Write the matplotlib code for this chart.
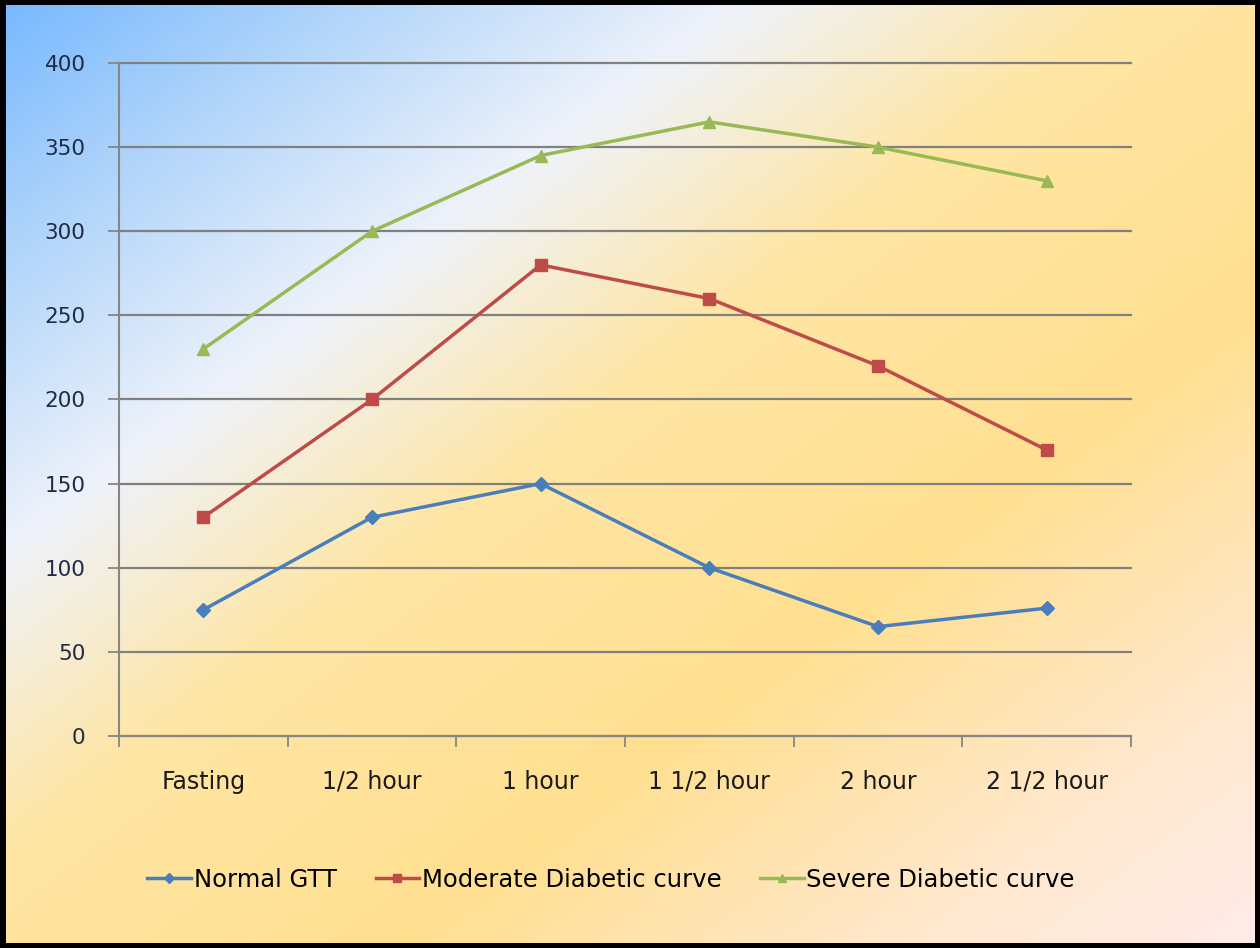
import numpy as np
import matplotlib
matplotlib.use("Agg")
import matplotlib.pyplot as plt

# Данные (мг/дл)
categories = ["Fasting", "1/2 hour", "1 hour", "1 1/2 hour", "2 hour", "2 1/2 hour"]
normal_gtt = [75, 130, 150, 100, 65, 76]
moderate_curve = [130, 200, 280, 260, 220, 170]
severe_curve = [230, 300, 345, 365, 350, 330]
y_ticks = [0, 50, 100, 150, 200, 250, 300, 350, 400]

W, H = 1260, 948
fig = plt.figure(figsize=(W / 100, H / 100), dpi=100, facecolor="black")

# фон с диагональным градиентом
yy, xx = np.mgrid[0:H, 0:W]
t = 0.6 * xx + 0.8 * yy
stops = [0, 200, 440, 680, 1000, 1300, 1560]
reds = [120, 175, 238, 255, 255, 255, 255]
greens = [185, 212, 242, 230, 224, 232, 236]
blues = [255, 250, 250, 165, 145, 205, 240]
img = np.dstack([np.interp(t, stops, reds), np.interp(t, stops, greens),
                 np.interp(t, stops, blues)]) / 255.0
bg = fig.add_axes([6 / W, 5 / H, (W - 11) / W, (H - 10) / H])
bg.imshow(img, aspect="auto", extent=(0, W, H, 0), interpolation="bilinear")
bg.axis("off")

ax = fig.add_axes([119 / W, 1 - 736 / H, (1131 - 119) / W, (736 - 63) / H])
ax.patch.set_alpha(0)

x = np.arange(len(categories))
ax.plot(x, normal_gtt, color="#4A7EBB", lw=2.5, marker="D", ms=7, label="Normal GTT")
ax.plot(x, moderate_curve, color="#BE4B48", lw=2.5, marker="s", ms=8, label="Moderate Diabetic curve")
ax.plot(x, severe_curve, color="#98B954", lw=2.5, marker="^", ms=8, label="Severe Diabetic curve")

ax.set_xlim(-0.5, len(categories) - 0.5)
ax.set_ylim(0, 400)
ax.set_yticks(y_ticks)
ax.set_xticks(x)
ax.set_xticklabels(categories)
ax.set_xticks(np.arange(-0.5, len(categories)), minor=True)
ax.tick_params(axis="x", which="major", length=0, pad=38, labelsize=17, labelcolor="#1a1a1a")
ax.tick_params(axis="x", which="minor", length=8, width=1.3, color="#868686", direction="out")
ax.tick_params(axis="y", length=8, width=1.3, color="#868686", pad=16, labelsize=15.5, labelcolor="#1F2A44")
for lab in ax.get_xticklabels():
    lab.set_verticalalignment("baseline")

ax.grid(axis="y", color="#808080", lw=1.6)
for gl in ax.get_ygridlines():
    gl.set_clip_on(False)
ax.set_axisbelow(True)
for side in ["top", "right"]:
    ax.spines[side].set_visible(False)
for side in ["left", "bottom"]:
    ax.spines[side].set_color("#868686")
    ax.spines[side].set_linewidth(1.5)

fig.legend(loc="center", bbox_to_anchor=(0.485, 1 - 880 / H), ncol=3, frameon=False,
           fontsize=17.5, handlelength=1.8, handletextpad=0.1, columnspacing=1.6, markerscale=0.8)

fig.savefig("out.png", dpi=100, facecolor="black")
